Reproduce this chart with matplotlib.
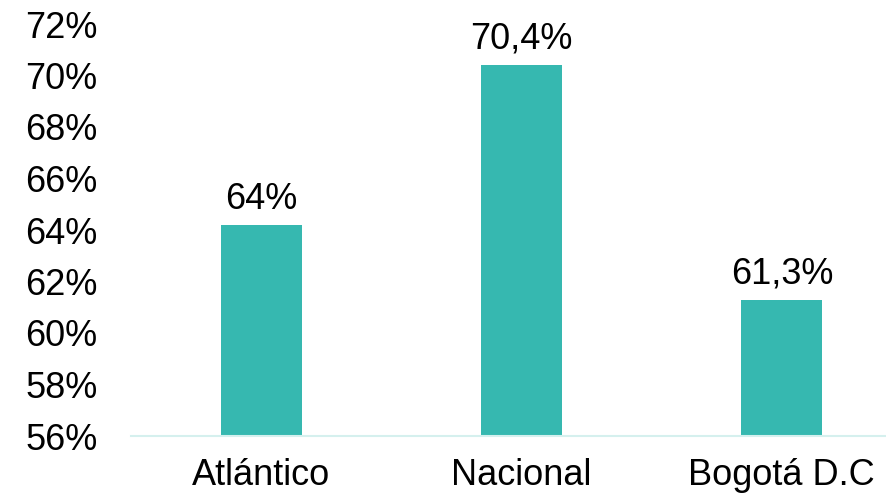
import matplotlib.pyplot as plt
from matplotlib.ticker import FuncFormatter

categories = ["Atlántico", "Nacional", "Bogotá D.C"]
values = [64.2, 70.4, 61.3]
value_labels = ["64%", "70,4%", "61,3%"]
y_ticks = [56, 58, 60, 62, 64, 66, 68, 70, 72]

plt.rcParams['font.family'] = ['Liberation Sans', 'DejaVu Sans']

W, H = 887, 501
fig = plt.figure(figsize=(W / 100, H / 100), dpi=100)
# axes runs past the right edge, as in the original crop
ax = fig.add_axes([131 / W, (H - 436) / H, (912 - 131) / W, (436 - 24) / H])

x = list(range(len(categories)))
bars = ax.bar(x, [v - 56 for v in values], bottom=56, width=0.31, color="#36B8B0")
for xi, v, lab in zip(x, values, value_labels):
    ax.annotate(lab, (xi, v), xytext=(0, 6), textcoords="offset points",
                ha="center", va="bottom", fontsize=26, color="black")

ax.set_xlim(-0.5, 2.5)
ax.set_ylim(56, 72)
ax.set_yticks(y_ticks)
ax.yaxis.set_major_formatter(FuncFormatter(lambda v, p: f"{v:.0f}%"))
ax.set_xticks(x)
ax.set_xticklabels(categories)
ax.tick_params(axis="y", length=0, pad=24, labelsize=26, labelcolor="black")
ax.tick_params(axis="x", length=0, pad=16, labelsize=26, labelcolor="black")

for s in ["top", "right", "left"]:
    ax.spines[s].set_visible(False)
ax.spines["bottom"].set_color("#D5F0EE")
ax.spines["bottom"].set_linewidth(1.5)

fig.savefig("out.png", dpi=100)
